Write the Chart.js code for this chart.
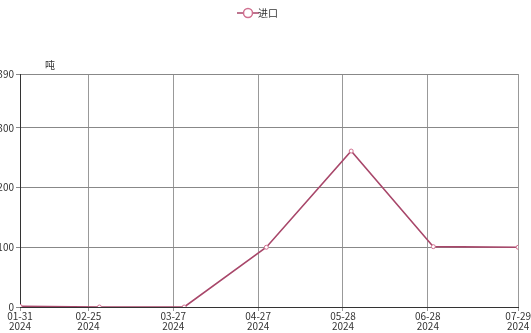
<!DOCTYPE html>
<html>
<head>
<meta charset="utf-8">
<script src="https://cdn.jsdelivr.net/npm/chart.js@4"></script>
<style>
  html, body { margin: 0; padding: 0; background: #fff; }
  #wrap { width: 531px; height: 333px; }
</style>
</head>
<body>
<div id="wrap"><canvas id="c"></canvas></div>
<script>
// days since 2024-01-31 for each point
const pointDays = [0, 29, 60, 90, 121, 151, 182];
const importTons = [1, 0, 0, 100, 261, 101, 100];
const tickDays = [0, 25, 56, 87, 118, 149, 182];
const tickLabels = ['01-31', '02-25', '03-27', '04-27', '05-28', '06-28', '07-29'];
const yTicks = [0, 100, 200, 300, 390];

const lineColor = '#a8476a';
const font = '"Microsoft YaHei", "Noto Sans CJK SC", sans-serif';

const unitLabel = {
  id: 'unitLabel',
  afterDraw(chart) {
    const ctx = chart.ctx;
    ctx.save();
    ctx.fillStyle = '#333';
    ctx.font = '10px ' + font;
    ctx.textAlign = 'center';
    ctx.fillText('吨', chart.chartArea.left + 30, chart.chartArea.top - 9);
    ctx.restore();
  }
};

const legendGap = {
  id: 'legendGap',
  beforeInit(chart) {
    const fit = chart.legend.fit;
    chart.legend.fit = function () {
      fit.bind(chart.legend)();
      this.height += 46;
    };
  }
};

// legend icon: line with hollow circle
const legendIcon = document.createElement('canvas');
legendIcon.width = 22;
legendIcon.height = 12;
(function () {
  const g = legendIcon.getContext('2d');
  g.strokeStyle = lineColor;
  g.lineWidth = 1.5;
  g.beginPath();
  g.moveTo(0, 6);
  g.lineTo(22, 6);
  g.stroke();
  g.fillStyle = '#fff';
  g.strokeStyle = '#d07090';
  g.beginPath();
  g.arc(11, 6, 4.5, 0, Math.PI * 2);
  g.fill();
  g.stroke();
})();

new Chart(document.getElementById('c'), {
  type: 'line',
  data: {
    datasets: [{
      label: '进口',
      data: pointDays.map((d, i) => ({ x: d, y: importTons[i] })),
      borderColor: lineColor,
      backgroundColor: '#fff',
      borderWidth: 1.6,
      pointStyle: 'circle',
      pointRadius: 2,
      pointBorderWidth: 1,
      pointBorderColor: '#d07090',
      pointBackgroundColor: '#fff',
      tension: 0
    }]
  },
  options: {
    responsive: true,
    maintainAspectRatio: false,
    animation: false,
    layout: { padding: { top: 2, right: 10, left: 0, bottom: 0 } },
    plugins: {
      legend: {
        position: 'top',
        labels: {
          usePointStyle: true,
          color: '#333',
          font: { size: 10, family: font },
          padding: 6,
          generateLabels() {
            return [{
              text: '进口',
              pointStyle: legendIcon,
              fillStyle: '#fff',
              strokeStyle: lineColor,
              lineWidth: 0,
              datasetIndex: 0,
              hidden: false,
              fontColor: '#333'
            }];
          }
        }
      },
      tooltip: { enabled: false }
    },
    scales: {
      x: {
        type: 'linear',
        min: 0,
        max: 182,
        afterBuildTicks(scale) {
          scale.ticks = tickDays.map(v => ({ value: v }));
        },
        afterFit(scale) { scale.height = 26; },
        ticks: {
          autoSkip: false,
          maxRotation: 0,
          color: '#333',
          padding: 0,
          font: { size: 10, family: font, lineHeight: 1.0 },
          callback(v) {
            const i = tickDays.indexOf(v);
            return i >= 0 ? [tickLabels[i], '2024'] : '';
          }
        },
        grid: { color: '#999', lineWidth: 1, tickLength: 4 },
        border: { color: '#333', width: 1 }
      },
      y: {
        min: 0,
        max: 390,
        afterBuildTicks(scale) {
          scale.ticks = yTicks.map(v => ({ value: v }));
        },
        afterFit(scale) { scale.width = 20; },
        ticks: {
          color: '#333',
          padding: 2,
          font: { size: 10, family: font }
        },
        grid: { color: '#888', lineWidth: 1, tickLength: 4 },
        border: { color: '#333', width: 1 }
      }
    }
  },
  plugins: [unitLabel, legendGap]
});
</script>
</body>
</html>
